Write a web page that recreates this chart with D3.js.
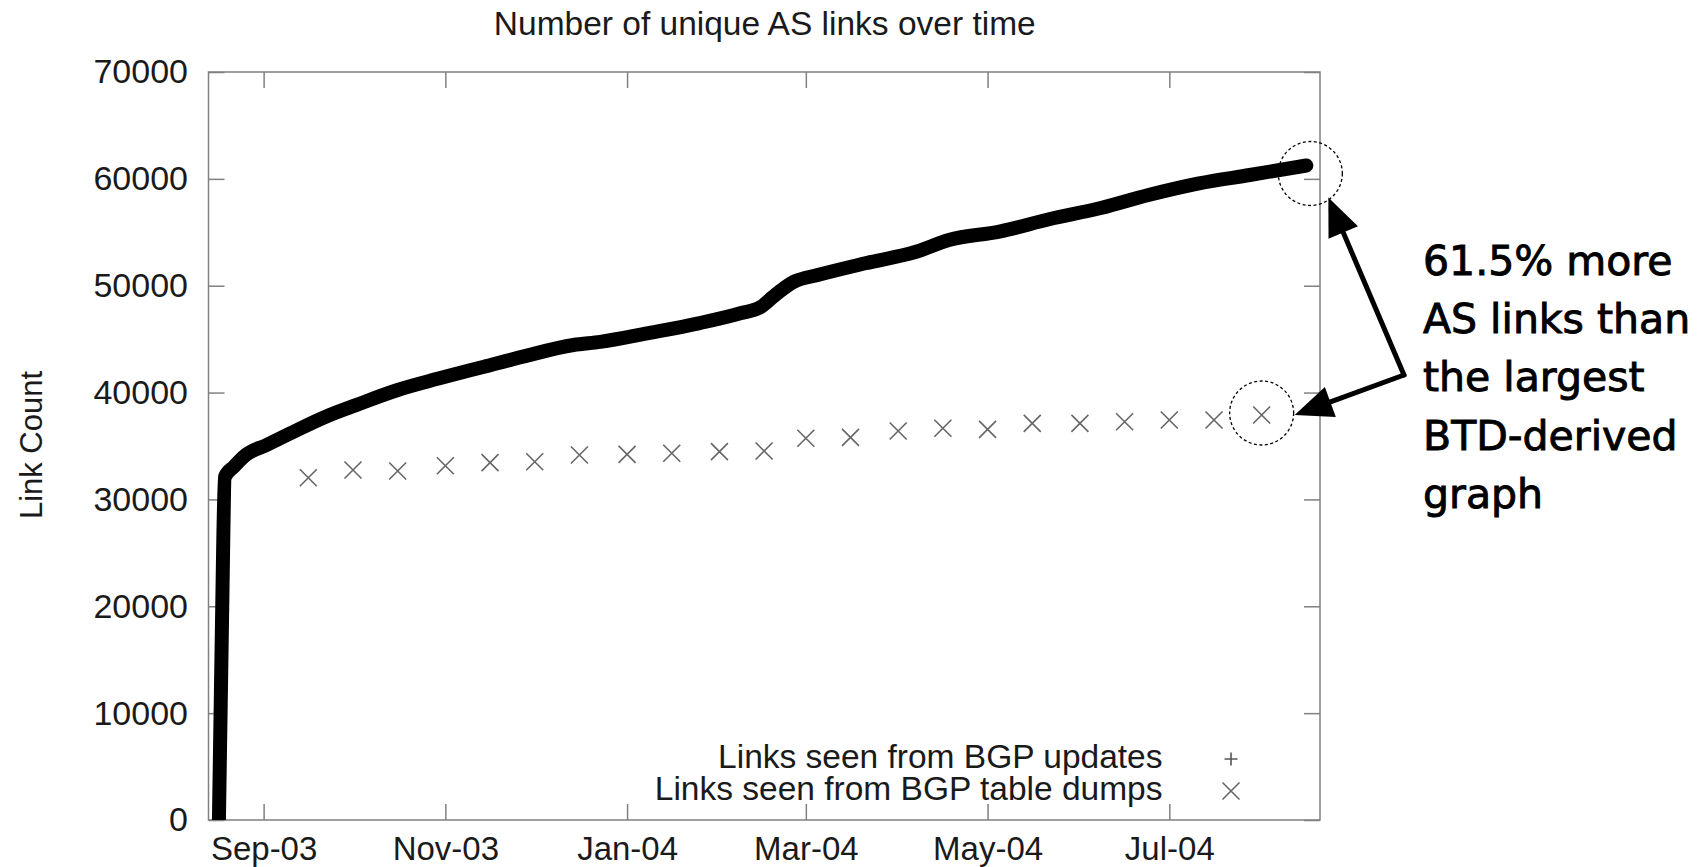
<!DOCTYPE html>
<html><head><meta charset="utf-8">
<script src="https://cdn.jsdelivr.net/npm/d3@7"></script>
<style>
html,body{margin:0;padding:0;background:#fff;}
svg{display:block;}
text{font-family:"Liberation Sans",Arial,Helvetica,sans-serif;}
</style></head><body>
<svg id="chart" width="1704" height="867"></svg>
<script>
// ---------------- data ----------------
const chartTitle = "Number of unique AS links over time";
const yAxisLabel = "Link Count";
const seriesNames = ["Links seen from BGP updates", "Links seen from BGP table dumps"];
const xTickDates = ["2003-09-01","2003-11-01","2004-01-01","2004-03-01","2004-05-01","2004-07-01"];
const xTickLabels = ["Sep-03","Nov-03","Jan-04","Mar-04","May-04","Jul-04"];
const yTickValues = [0,10000,20000,30000,40000,50000,60000,70000];

const updateDates = ["2003-08-17","2003-08-18","2003-08-19","2003-08-22","2003-08-26","2003-09-02",
  "2003-09-10","2003-09-23","2003-10-02","2003-10-16","2003-10-30","2003-11-14","2003-11-27",
  "2003-12-14","2003-12-23","2004-01-09","2004-01-25","2004-02-08","2004-02-15","2004-02-19",
  "2004-02-26","2004-03-05","2004-03-21","2004-04-07","2004-04-18","2004-05-05","2004-05-22",
  "2004-06-08","2004-06-24","2004-07-11","2004-07-28","2004-08-16"];
const updateCounts = [0,18000,32100,33060,34160,35090,
  36190,37880,38830,40240,41330,42420,43360,
  44450,44740,45600,46480,47420,48030,48970,
  50370,51000,52100,53180,54280,55070,56240,
  57270,58490,59580,60360,61250];

const dumpDates = ["2003-09-16","2003-10-01","2003-10-16","2003-11-01","2003-11-16","2003-12-01",
  "2003-12-16","2004-01-01","2004-01-16","2004-02-01","2004-02-16","2004-03-01","2004-03-16",
  "2004-04-01","2004-04-16","2004-05-01","2004-05-16","2004-06-01","2004-06-16","2004-07-01",
  "2004-07-16","2004-08-01"];
const dumpCounts = [32030,32750,32660,33150,33440,33530,
  34160,34220,34320,34470,34530,35720,35810,
  36400,36660,36560,37120,37120,37270,37430,
  37430,37900];

const annotationLines = ["61.5% more","AS links than","the largest","BTD-derived","graph"];

// ---------------- layout ----------------
const M = {left:208.5, right:1320, top:72, bottom:820};
const parse = d3.timeParse("%Y-%m-%d");
const svg = d3.select("#chart");
svg.append("rect").attr("width",1704).attr("height",867).attr("fill","#fff");

const x = d3.scaleTime()
  .domain([new Date(2003,7,13,12), new Date(2004,7,20,14)])
  .range([M.left, M.right]);
const y = d3.scaleLinear().domain([0,70000]).range([M.bottom, M.top]);

const axisColor = "#808080";
const textColor = "#1a1a1a";
const fontMain = '"Liberation Sans",Arial,Helvetica,sans-serif';

function styleAxis(g, fs){
  g.select(".domain").remove();
  g.selectAll(".tick line").attr("stroke",axisColor).attr("stroke-width",1.5);
  g.attr("font-size",fs).attr("font-family",fontMain);
  g.selectAll(".tick text").attr("fill",textColor);
}

const xTicks = xTickDates.map(parse);
svg.append("g").attr("transform",`translate(0,${M.bottom})`)
  .call(d3.axisBottom(x).tickValues(xTicks).tickFormat((d,i)=>xTickLabels[i])
    .tickSizeInner(-16).tickSizeOuter(0).tickPadding(16.5))
  .call(g=>styleAxis(g,33));
svg.append("g").attr("transform",`translate(0,${M.top})`)
  .call(d3.axisTop(x).tickValues(xTicks).tickFormat(()=>"")
    .tickSizeInner(-16).tickSizeOuter(0))
  .call(g=>styleAxis(g,33));
svg.append("g").attr("transform",`translate(${M.left},0)`)
  .call(d3.axisLeft(y).tickValues(yTickValues).tickFormat(d3.format("d"))
    .tickSizeInner(-16).tickSizeOuter(0).tickPadding(20.5))
  .call(g=>styleAxis(g,34));
svg.append("g").attr("transform",`translate(${M.right},0)`)
  .call(d3.axisRight(y).tickValues(yTickValues).tickFormat(()=>"")
    .tickSizeInner(-16).tickSizeOuter(0))
  .call(g=>styleAxis(g,34));

svg.append("rect")
  .attr("x",M.left).attr("y",M.top)
  .attr("width",M.right-M.left).attr("height",M.bottom-M.top)
  .attr("fill","none").attr("stroke",axisColor).attr("stroke-width",1.5);

// title & y label
svg.append("text").attr("x",(M.left+M.right)/2 + 0.5).attr("y",35)
  .attr("text-anchor","middle").attr("font-size",33.5).attr("fill",textColor).text(chartTitle);
svg.append("text").attr("transform","translate(42,445) rotate(-90)")
  .attr("text-anchor","middle").attr("font-size",31).attr("fill",textColor).text(yAxisLabel);

// clip
svg.append("clipPath").attr("id","plotclip").append("rect")
  .attr("x",M.left).attr("y",M.top).attr("width",M.right-M.left).attr("height",M.bottom-M.top);

// updates series (dense points -> thick band)
const updates = updateDates.map((d,i)=>({date:parse(d), v:updateCounts[i]}));
const line = d3.line().x(d=>x(d.date)).y(d=>y(d.v)).curve(d3.curveMonotoneX);
svg.append("path").datum(updates)
  .attr("clip-path","url(#plotclip)")
  .attr("d",line).attr("fill","none").attr("stroke","#000")
  .attr("stroke-width",14).attr("stroke-linejoin","round").attr("stroke-linecap","round");

// dumps series (x markers)
const dumps = dumpDates.map((d,i)=>({date:parse(d), v:dumpCounts[i]}));
const xr = 8.5;
const crossPath = `M${-xr},${-xr}L${xr},${xr}M${-xr},${xr}L${xr},${-xr}`;
svg.append("g").selectAll("path").data(dumps).join("path")
  .attr("transform",d=>`translate(${x(d.date)},${y(d.v)})`)
  .attr("d",crossPath).attr("fill","none").attr("stroke","#666").attr("stroke-width",1.6);

// legend
const legRight = 1162.5, legSym = 1231, legY = [768, 800];
svg.append("g").selectAll("text").data(seriesNames).join("text")
  .attr("x",legRight).attr("y",(d,i)=>legY[i]).attr("text-anchor","end")
  .attr("font-size",33.5).attr("fill",textColor).text(d=>d);
const pr = 6.5;
svg.append("path").attr("transform",`translate(${legSym},${legY[0]-9})`)
  .attr("d",`M${-pr},0L${pr},0M0,${-pr}L0,${pr}`).attr("stroke","#555").attr("stroke-width",1.6);
svg.append("path").attr("transform",`translate(${legSym},${legY[1]-9})`)
  .attr("d",crossPath).attr("stroke","#666").attr("stroke-width",1.6).attr("fill","none");

// annotation: dashed circles around the final values
const lastU = updates[updates.length-1], lastD = dumps[dumps.length-1];
const c1 = {x:x(lastU.date)+4, y:y(lastU.v)+8}, c2 = {x:x(lastD.date), y:y(lastD.v)-2};
const cr = 32;
[c1,c2].forEach(c=>{
  svg.append("circle").attr("cx",c.x).attr("cy",c.y).attr("r",cr)
    .attr("fill","none").attr("stroke","#000").attr("stroke-width",1.3)
    .attr("stroke-dasharray","3,2.5");
});

// arrows
const elbow = {x:1404, y:375};
const tips = [{x:c1.x+18, y:c1.y+24},{x:c2.x+33, y:c2.y+2}];
const headLen = 38, headHalf = 16;
tips.forEach(t=>{
  const dx = t.x-elbow.x, dy = t.y-elbow.y, L = Math.hypot(dx,dy);
  const ux = dx/L, uy = dy/L;
  const bx = t.x-ux*headLen, by = t.y-uy*headLen;
  svg.append("line").attr("x1",elbow.x).attr("y1",elbow.y).attr("x2",bx+ux*2).attr("y2",by+uy*2)
    .attr("stroke","#000").attr("stroke-width",5).attr("stroke-linecap","round");
  svg.append("path")
    .attr("d",`M${t.x},${t.y}L${bx-uy*headHalf},${by+ux*headHalf}L${bx+uy*headHalf},${by-ux*headHalf}Z`)
    .attr("fill","#000");
});

svg.append("g").selectAll("text").data(annotationLines).join("text")
  .attr("x",1423).attr("y",(d,i)=>275+i*58.2)
  .attr("font-family",'"DejaVu Sans",Verdana,sans-serif').style("font-family",'"DejaVu Sans",Verdana,sans-serif')
  .attr("font-size",41).attr("fill","#000")
  .attr("stroke","#000").attr("stroke-width",0.9)
  .text(d=>d);
</script>
</body></html>
